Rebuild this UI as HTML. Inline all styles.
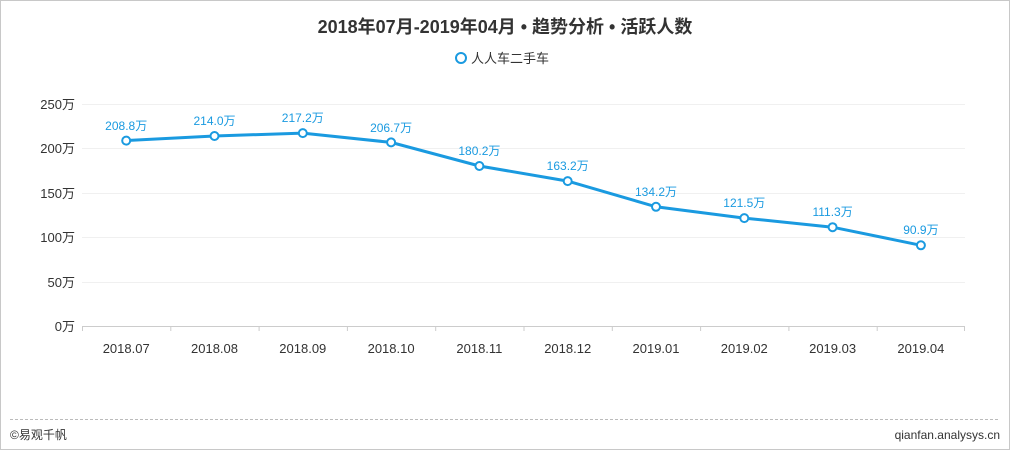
<!DOCTYPE html>
<html><head><meta charset="utf-8"><style>
body{margin:0;background:#fff;}
svg{display:block;font-family:"Liberation Sans","Noto Sans CJK SC",sans-serif;}
</style></head><body>
<svg width="1010" height="450" xmlns="http://www.w3.org/2000/svg">
<rect x="0.5" y="0.5" width="1009" height="449" fill="#fff" stroke="#c8c8c8"/>
<text x="505" y="33" text-anchor="middle" font-size="18" font-weight="bold" fill="#333">2018年07月-2019年04月 • 趋势分析 • 活跃人数</text>
<circle cx="461" cy="58" r="5" fill="#fff" stroke="#1a9ae0" stroke-width="2"/>
<text x="471" y="63" font-size="13" fill="#333">人人车二手车</text>
<g stroke="#f0f0f0" stroke-width="1">
<line x1="82" y1="104.5" x2="965" y2="104.5"/><line x1="82" y1="148.5" x2="965" y2="148.5"/>
<line x1="82" y1="193.5" x2="965" y2="193.5"/><line x1="82" y1="237.5" x2="965" y2="237.5"/>
<line x1="82" y1="282.5" x2="965" y2="282.5"/>
</g>
<line x1="82" y1="326.5" x2="965" y2="326.5" stroke="#ccc"/>
<g stroke="#ccc">
<line x1="82.5" y1="326" x2="82.5" y2="331"/><line x1="170.8" y1="326" x2="170.8" y2="331"/><line x1="259.1" y1="326" x2="259.1" y2="331"/><line x1="347.4" y1="326" x2="347.4" y2="331"/><line x1="435.7" y1="326" x2="435.7" y2="331"/><line x1="524" y1="326" x2="524" y2="331"/><line x1="612.3" y1="326" x2="612.3" y2="331"/><line x1="700.6" y1="326" x2="700.6" y2="331"/><line x1="788.9" y1="326" x2="788.9" y2="331"/><line x1="877.2" y1="326" x2="877.2" y2="331"/><line x1="964.5" y1="326" x2="964.5" y2="331"/>
</g>
<g font-size="13" fill="#333" text-anchor="end">
<text x="75" y="109">250万</text><text x="75" y="153">200万</text><text x="75" y="198">150万</text><text x="75" y="242">100万</text><text x="75" y="287">50万</text><text x="75" y="331">0万</text>
</g>
<g font-size="13" fill="#333" text-anchor="middle">
<text x="126.2" y="353">2018.07</text><text x="214.5" y="353">2018.08</text><text x="302.8" y="353">2018.09</text><text x="391.1" y="353">2018.10</text><text x="479.4" y="353">2018.11</text><text x="567.7" y="353">2018.12</text><text x="656" y="353">2019.01</text><text x="744.3" y="353">2019.02</text><text x="832.6" y="353">2019.03</text><text x="920.9" y="353">2019.04</text>
</g>
<polyline fill="none" stroke="#1a9ae0" stroke-width="3" points="126.2,140.6 214.5,136 302.8,133.1 391.1,142.4 479.4,166 567.7,181.1 656,206.8 744.3,218.1 832.6,227.2 920.9,245.3"/>
<g fill="#fff" stroke="#1a9ae0" stroke-width="2">
<circle cx="126.2" cy="140.6" r="4"/><circle cx="214.5" cy="136" r="4"/><circle cx="302.8" cy="133.1" r="4"/><circle cx="391.1" cy="142.4" r="4"/><circle cx="479.4" cy="166" r="4"/><circle cx="567.7" cy="181.1" r="4"/><circle cx="656" cy="206.8" r="4"/><circle cx="744.3" cy="218.1" r="4"/><circle cx="832.6" cy="227.2" r="4"/><circle cx="920.9" cy="245.3" r="4"/>
</g>
<g font-size="12" fill="#1a9ae0" text-anchor="middle">
<text x="126.2" y="130">208.8万</text><text x="214.5" y="125">214.0万</text><text x="302.8" y="122">217.2万</text><text x="391.1" y="132">206.7万</text><text x="479.4" y="155">180.2万</text><text x="567.7" y="170">163.2万</text><text x="656" y="196">134.2万</text><text x="744.3" y="207">121.5万</text><text x="832.6" y="216">111.3万</text><text x="920.9" y="234">90.9万</text>
</g>
<line x1="10" y1="419.5" x2="1000" y2="419.5" stroke="#bbb" stroke-dasharray="3,2"/>
<text x="10" y="439" font-size="12" fill="#333">©易观千帆</text>
<text x="1000" y="439" font-size="12" fill="#333" text-anchor="end">qianfan.analysys.cn</text>
</svg>
</body></html>
